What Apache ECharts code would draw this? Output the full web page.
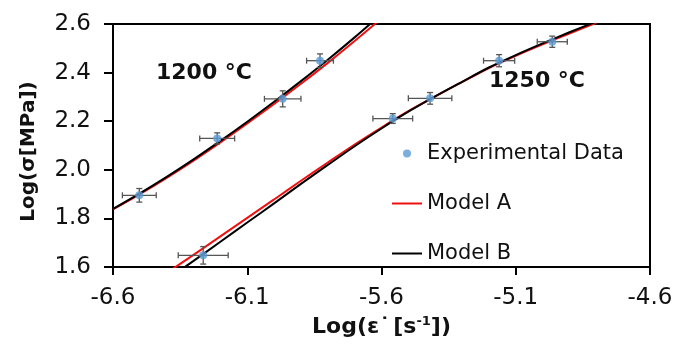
<!DOCTYPE html>
<html>
<head>
<meta charset="utf-8">
<script src="https://cdn.jsdelivr.net/npm/echarts@6/dist/echarts.min.js"></script>
<style>
html,body{margin:0;padding:0;background:#fff;}
#c{width:676px;height:347px;}
</style>
</head>
<body>
<div id="c"></div>
<script>
// ---- tick values ----
var xTicks = [-6.6, -6.1, -5.6, -5.1, -4.6];
var yTicks = [1.6, 1.8, 2.0, 2.2, 2.4, 2.6];

// ---- experimental data, 1200 °C ----
var exp1200X  = [-6.502, -6.212, -5.968, -5.829];
var exp1200Y  = [1.895, 2.129, 2.292, 2.449];
var exp1200XE = [0.063, 0.065, 0.068, 0.050];
var exp1200YE = [0.028, 0.023, 0.033, 0.028];

// ---- experimental data, 1250 °C ----
var exp1250X  = [-6.264, -5.558, -5.419, -5.162, -4.964];
var exp1250Y  = [1.648, 2.211, 2.294, 2.449, 2.527];
var exp1250XE = [0.093, 0.074, 0.081, 0.058, 0.056];
var exp1250YE = [0.036, 0.020, 0.024, 0.025, 0.023];

// ---- model curves, 1200 °C ----
var mod1200X  = [-6.6, -6.5, -6.4, -6.3, -6.2, -6.1, -6.0, -5.9, -5.8, -5.7, -5.6];
var modA1200Y = [1.837, 1.900, 1.967, 2.038, 2.113, 2.191, 2.271, 2.354, 2.440, 2.530, 2.623];
var modB1200Y = [1.839, 1.903, 1.971, 2.043, 2.119, 2.198, 2.280, 2.365, 2.453, 2.545, 2.641];

// ---- model curves, 1250 °C ----
var mod1250X  = [-6.4, -6.35, -6.3, -6.2, -6.1, -6.0, -5.9, -5.8, -5.7, -5.6, -5.5, -5.4, -5.3, -5.2, -5.1, -5.0, -4.9, -4.8];
var modA1250Y = [1.575, 1.613, 1.650, 1.726, 1.802, 1.878, 1.955, 2.030, 2.104, 2.174, 2.241, 2.302, 2.361, 2.419, 2.469, 2.516, 2.561, 2.605];
var modB1250Y = [1.546, 1.586, 1.625, 1.704, 1.783, 1.862, 1.942, 2.020, 2.097, 2.170, 2.239, 2.302, 2.362, 2.421, 2.472, 2.520, 2.566, 2.610];

var labels = {
  exp: 'Experimental Data',
  a: 'Model A',
  b: 'Model B',
  t1: '1200 °C',
  t2: '1250 °C'
};

function pairs(xs, ys) { return xs.map(function (x, i) { return [x, ys[i]]; }); }
function quads(xs, ys, xe, ye) { return xs.map(function (x, i) { return [x, ys[i], xe[i], ye[i]]; }); }

var FONT = 'DejaVu Sans';
var RED = '#ee1111';

function renderErr(params, api) {
  var x = api.value(0), y = api.value(1), ex = api.value(2), ey = api.value(3);
  var l = api.coord([x - ex, y]), r = api.coord([x + ex, y]);
  var t = api.coord([x, y + ey]), b = api.coord([x, y - ey]);
  var cap = 3;
  var st = { stroke: '#555555', lineWidth: 1.3 };
  return {
    type: 'group',
    children: [
      { type: 'line', shape: { x1: l[0], y1: l[1], x2: r[0], y2: r[1] }, style: st },
      { type: 'line', shape: { x1: l[0], y1: l[1] - cap, x2: l[0], y2: l[1] + cap }, style: st },
      { type: 'line', shape: { x1: r[0], y1: r[1] - cap, x2: r[0], y2: r[1] + cap }, style: st },
      { type: 'line', shape: { x1: t[0], y1: t[1], x2: b[0], y2: b[1] }, style: st },
      { type: 'line', shape: { x1: t[0] - cap, y1: t[1], x2: t[0] + cap, y2: t[1] }, style: st },
      { type: 'line', shape: { x1: b[0] - cap, y1: b[1], x2: b[0] + cap, y2: b[1] }, style: st }
    ]
  };
}

var chart = echarts.init(document.getElementById('c'), null, { renderer: 'canvas' });

var lineCommon = { type: 'line', symbol: 'none', showSymbol: false, smooth: 0.3, clip: true };

var option = {
  animation: false,
  backgroundColor: '#fff',
  textStyle: { fontFamily: FONT },
  grid: {
    left: 113, right: 26, top: 24, bottom: 80,
    show: true, borderColor: '#000', borderWidth: 2, backgroundColor: 'transparent'
  },
  xAxis: {
    type: 'value',
    min: xTicks[0], max: xTicks[xTicks.length - 1], interval: xTicks[1] - xTicks[0],
    axisLine: { show: true, onZero: false, lineStyle: { color: '#000', width: 2 } },
    axisTick: { show: true, inside: false, length: 8, lineStyle: { color: '#000', width: 2 } },
    splitLine: { show: false },
    axisLabel: {
      margin: 20, fontSize: 23, fontFamily: FONT, color: '#111',
      formatter: function (v) { return v.toFixed(1); }
    },
    name: '{b|Log(ε}{d|˙}{b|[s}{s|-1}{b|])}',
    nameLocation: 'middle',
    nameGap: 39,
    nameTextStyle: {
      rich: {
        b: { fontSize: 22, fontWeight: 'bold', fontFamily: FONT, color: '#111' },
        d: { fontSize: 22, fontWeight: 'bold', fontFamily: FONT, color: '#111', padding: [0, 3, 0, 0] },
        s: { fontSize: 13, fontWeight: 'bold', fontFamily: FONT, color: '#111', padding: [0, 0, 12, 0] }
      }
    }
  },
  yAxis: {
    type: 'value',
    min: yTicks[0], max: yTicks[yTicks.length - 1], interval: 0.2,
    axisLine: { show: true, onZero: false, lineStyle: { color: '#000', width: 2 } },
    axisTick: { show: true, inside: false, length: 9, lineStyle: { color: '#000', width: 2 } },
    splitLine: { show: false },
    axisLabel: {
      margin: 22, fontSize: 23, fontFamily: FONT, color: '#111',
      formatter: function (v) { return v.toFixed(1); }
    },
    name: 'Log(σ[MPa])',
    nameLocation: 'middle',
    nameGap: 74,
    nameTextStyle: { fontSize: 20, fontWeight: 'bold', fontFamily: FONT, color: '#111', padding: [0, 12, 0, 0] }
  },
  legend: [
    {
      left: 403, top: 143, padding: 0,
      itemWidth: 30, itemHeight: 8,
      data: [{ name: labels.exp, icon: 'circle' }],
      textStyle: { fontSize: 21, fontFamily: FONT, color: '#111' }
    },
    {
      left: 392, top: 193, padding: 0, orient: 'vertical',
      itemWidth: 30, itemHeight: 2, itemGap: 29,
      data: [{ name: labels.a, icon: 'rect' }, { name: labels.b, icon: 'rect' }],
      textStyle: { fontSize: 21, fontFamily: FONT, color: '#111' }
    }
  ],
  graphic: [
    { type: 'text', x: 204, y: 73, style: { text: labels.t1, align: 'center', verticalAlign: 'middle', font: 'bold 22px "DejaVu Sans"', fill: '#111' } },
    { type: 'text', x: 537, y: 81, style: { text: labels.t2, align: 'center', verticalAlign: 'middle', font: 'bold 22px "DejaVu Sans"', fill: '#111' } }
  ],
  series: [
    Object.assign({}, lineCommon, { name: labels.a, data: pairs(mod1200X, modA1200Y), lineStyle: { color: RED, width: 2 }, itemStyle: { color: RED }, z: 2 }),
    Object.assign({}, lineCommon, { name: labels.a, data: pairs(mod1250X, modA1250Y), lineStyle: { color: RED, width: 2 }, itemStyle: { color: RED }, z: 2 }),
    Object.assign({}, lineCommon, { name: labels.b, data: pairs(mod1200X, modB1200Y), lineStyle: { color: '#000', width: 2 }, itemStyle: { color: '#000' }, z: 3 }),
    Object.assign({}, lineCommon, { name: labels.b, data: pairs(mod1250X, modB1250Y), lineStyle: { color: '#000', width: 2 }, itemStyle: { color: '#000' }, z: 3 }),
    { type: 'custom', name: 'err1200', renderItem: renderErr, data: quads(exp1200X, exp1200Y, exp1200XE, exp1200YE), z: 4, silent: true },
    { type: 'custom', name: 'err1250', renderItem: renderErr, data: quads(exp1250X, exp1250Y, exp1250XE, exp1250YE), z: 4, silent: true },
    { type: 'scatter', name: labels.exp, data: pairs(exp1200X, exp1200Y), symbol: 'circle', symbolSize: 8, itemStyle: { color: '#5b9bd5' }, z: 5 },
    { type: 'scatter', name: labels.exp, data: pairs(exp1250X, exp1250Y), symbol: 'circle', symbolSize: 8, itemStyle: { color: '#5b9bd5' }, z: 5 }
  ]
};

chart.setOption(option);
</script>
</body>
</html>
